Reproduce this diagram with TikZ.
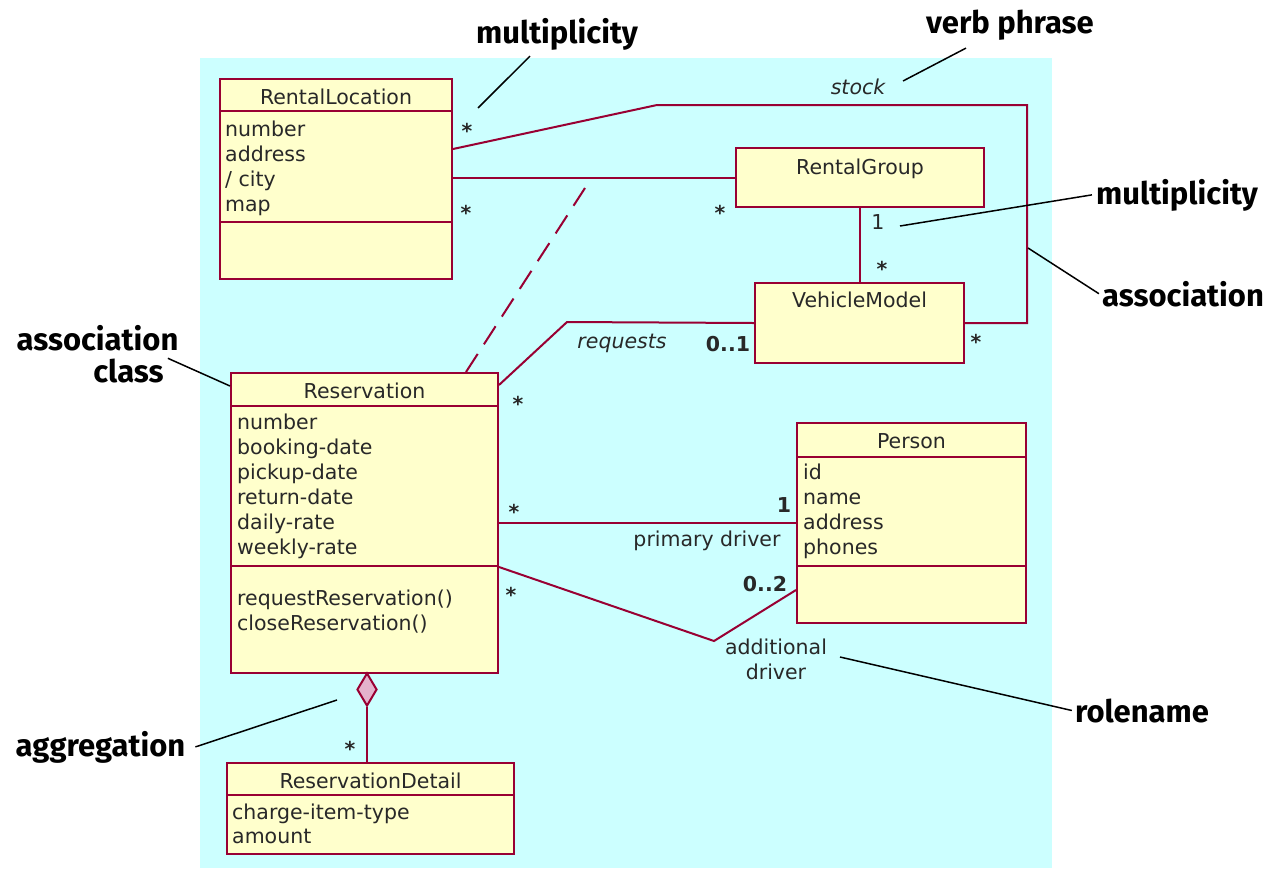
\documentclass[tikz,border=0pt]{standalone}
\usepackage{fontspec}
\setmainfont{DejaVu Sans}
\newfontfamily\notefont{Fira Sans}
\usetikzlibrary{shapes.geometric,calc}

\definecolor{umlcyan}{RGB}{204,255,255}
\definecolor{umlfill}{RGB}{255,255,204}
\definecolor{umlborder}{RGB}{153,0,51}
\definecolor{umlpink}{RGB}{228,178,204}
\definecolor{umltext}{RGB}{40,40,40}

\newcommand{\umlfont}{\fontsize{20.5}{25}\selectfont}
\newcommand{\notesize}{\notefont\bfseries\fontsize{31}{32}\selectfont}

\tikzset{
  umlbox/.style={draw=umlborder, fill=umlfill, line width=2pt, anchor=north west, inner sep=0pt},
  classname/.style={font=\umlfont, text=umltext, anchor=base, inner sep=0pt},
  attr/.style={font=\umlfont, text=umltext, anchor=base west, inner sep=0pt},
  mult/.style={font=\umlfont\bfseries, text=umltext, inner sep=0pt},
  mstar/.style={mult, yshift=-4pt},
  assoc/.style={draw=umlborder, line width=2pt},
  leader/.style={draw=black, line width=1.5pt},
  notetext/.style={font=\notesize, anchor=base, inner sep=0pt},
}

\begin{document}
\begin{tikzpicture}[x=1pt,y=-1pt]
\useasboundingbox (0,0) rectangle (1273,868);
% Background
\fill[umlcyan] (200,58) rectangle (1052,868);

% Classes
\node[umlbox, minimum width=232pt, minimum height=200pt] (rl) at (219,78) {};
\node[umlbox, minimum width=248pt, minimum height=59pt] (rg) at (735,147) {};
\node[umlbox, minimum width=209pt, minimum height=80pt] (vm) at (754,282) {};
\node[umlbox, minimum width=267pt, minimum height=300pt] (res) at (230,372) {};
\node[umlbox, minimum width=229pt, minimum height=200pt] (per) at (796,422) {};
\node[umlbox, minimum width=287pt, minimum height=91pt] (rd) at (226,762) {};

% Compartments
\draw[assoc] ([yshift=-33pt]rl.north west) -- ([yshift=-33pt]rl.north east);
\draw[assoc] ([yshift=-144pt]rl.north west) -- ([yshift=-144pt]rl.north east);
\draw[assoc] ([yshift=-34pt]res.north west) -- ([yshift=-34pt]res.north east);
\draw[assoc] ([yshift=-194pt]res.north west) -- ([yshift=-194pt]res.north east);
\draw[assoc] ([yshift=-35pt]per.north west) -- ([yshift=-35pt]per.north east);
\draw[assoc] ([yshift=-144pt]per.north west) -- ([yshift=-144pt]per.north east);
\draw[assoc] ([yshift=-33pt]rd.north west) -- ([yshift=-33pt]rd.north east);

% Class names
\node[classname] (rlname) at (rl.north |- 0,104) {RentalLocation};
\node[classname] (rgname) at (rg.north |- 0,174) {RentalGroup};
\node[classname] (vmname) at (vm.north |- 0,307) {VehicleModel};
\node[classname] (resname) at (res.north |- 0,398) {Reservation};
\node[classname] (pername) at (per.north |- 0,448) {Person};
\node[classname] (rdname) at (rd.north |- 0,788) {ReservationDetail};

% Attributes and operations
\foreach \a [count=\i] in {number,address,/ city,map}
  \node[attr] (rlattr\i) at (225,{111+25*\i}) {\a};
\foreach \a [count=\i] in {number,booking-date,pickup-date,return-date,daily-rate,weekly-rate}
  \node[attr] (resattr\i) at (237,{404+25*\i}) {\a};
\node[attr] (resop1) at (237,605) {requestReservation()};
\node[attr] (resop2) at (237,630) {closeReservation()};
\foreach \a [count=\i] in {id,name,address,phones}
  \node[attr] (perattr\i) at (803,{454+25*\i}) {\a};
\foreach \a [count=\i] in {charge-item-type,amount}
  \node[attr] (rdattr\i) at (232,{795+24*\i}) {\a};

% Associations
\draw[assoc] ([yshift=-71pt]rl.north east) -- (657,105) -- (1027,105) |- ([yshift=-41pt]vm.north east);
\draw[assoc] (rg.west) -- (rg.west -| rl.east);
\draw[assoc] (rg.south) -- (rg.south |- vm.north);
\draw[assoc] (vm.west) -- (567,322) -- ([yshift=-13pt]res.north east);
\draw[assoc] (per.west) -- (per.west -| res.east);
\draw[assoc] ([yshift=-195pt]res.north east) -- (714,641) -- ([yshift=-168pt]per.north west);
\coordinate (acend) at (585,188);
\draw[assoc, dash pattern=on 21.5pt off 11.5pt] ([xshift=101.5pt]res.north) -- (acend);

% Aggregation
\node[draw=umlborder, fill=umlpink, line width=2pt, diamond, minimum width=20pt, minimum height=33pt, inner sep=0pt, anchor=north] (agg) at (367,672) {};
\draw[assoc] (agg.south) -- (agg.south |- rd.north);

% Association labels
\node[font=\umlfont\itshape, text=umltext] (stock) at (858,87) {stock};
\node[font=\umlfont\itshape, text=umltext] (requests) at (622,343) {requests};
\node[font=\umlfont, text=umltext] (primary) at (707,541) {primary driver};
\node[font=\umlfont, text=umltext, align=center] (additional) at (776,659) {additional\\driver};

% Multiplicities
\node[mstar] (m1) at (467,127) {*};
\node[mstar] (m2) at (466,209) {*};
\node[mstar] (m3) at (720,209) {*};
\node[font=\umlfont, text=umltext, inner sep=0pt] (m4) at (878,222) {1};
\node[mstar] (m5) at (882,265) {*};
\node[mstar] (m6) at (976,338) {*};
\node[mult] (m7) at (728,344) {0..1};
\node[mstar] (m8) at (518,400) {*};
\node[mstar] (m9) at (514,508) {*};
\node[mult] (m10) at (784,505) {1};
\node[mstar] (m11) at (511,591) {*};
\node[mult] (m12) at (765,584) {0..2};
\node[mstar] (m13) at (350,745) {*};

% Notes
\node[notetext] (multtop) at (557,43) {multiplicity};
\coordinate (multtoptip) at (478,108);
\draw[leader] ([shift={(-27pt,-6pt)}]multtop.south) -- (multtoptip);

\node[notetext] (verb) at (1010,33) {verb phrase};
\coordinate (verbtip) at (903,81);
\draw[leader] ([shift={(-44pt,-8pt)}]verb.south) -- (verbtip);

\node[notetext] (multright) at (1177,204) {multiplicity};
\coordinate (multrighttip) at (900,226);
\draw[leader] ([xshift=-4pt]multright.west) -- (multrighttip);

\node[notetext] (assocnote) at (1183,306) {association};
\coordinate (assoctip) at (1028,248);
\draw[leader] ([xshift=-3pt]assocnote.west) -- (assoctip);

\node[notetext] (acnote1) at (97.5,350) {association};
\node[notetext] (acnote2) at (128.5,382) {class};
\draw[leader] ([xshift=4pt]acnote2.north east) -- ([yshift=-14pt]res.north west);

\node[notetext] (aggnote) at (100.5,756) {aggregation};
\coordinate (aggtip) at (337,700);
\draw[leader] ([xshift=10pt]aggnote.east) -- (aggtip);

\node[notetext] (rolenote) at (1142,722) {rolename};
\coordinate (roletip) at (840,657);
\draw[leader] ([xshift=-3pt]rolenote.west) -- (roletip);
\end{tikzpicture}
\end{document}
